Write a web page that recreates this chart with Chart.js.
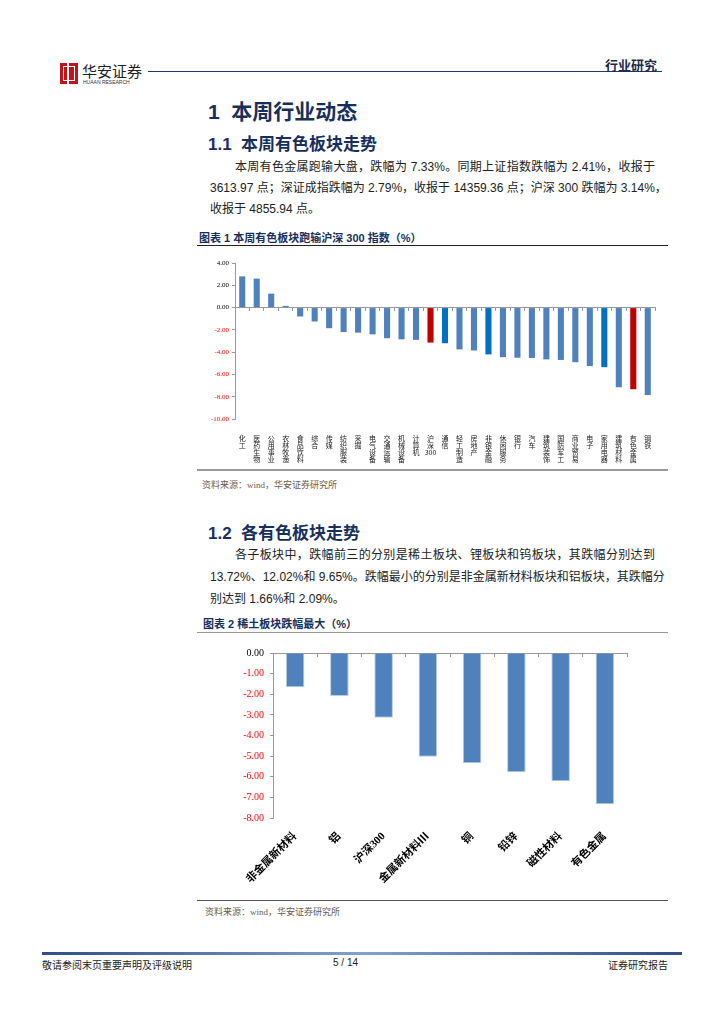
<!DOCTYPE html>
<html>
<head>
<meta charset="utf-8">
<script src="https://cdn.jsdelivr.net/npm/chart.js@4.4.1/dist/chart.umd.min.js"></script>
<style>
  body { margin: 0; width: 724px; height: 1024px; background: #fff; position: relative; overflow: hidden;
         font-family: "Liberation Sans", "Noto Sans CJK SC", sans-serif; color: #222; }
  .abs { position: absolute; white-space: nowrap; }
  .h1 { font-size: 21px; font-weight: bold; color: #172f5c; }
  .h2 { font-size: 17px; font-weight: bold; color: #172f5c; }
  .p { font-size: 12px; width: 445px; text-align: justify; text-align-last: justify; }
  .p.last { text-align-last: left; }
  .ct { font-size: 11px; font-weight: bold; color: #172f5c; }
  .src { font-size: 9px; color: #6b5d4f; font-family: "Liberation Serif", "Noto Sans CJK SC", serif; }
  .rule { position: absolute; height: 0; }
</style>
</head>
<body>
<!-- header -->
<div class="abs" style="left:60px;top:63px;width:16px;height:19px;border:1px solid #c0141c;background:#c0141c;"></div>
<div class="abs" style="left:63px;top:66px;width:10px;height:13px;border:1px solid #fff;"></div>
<div class="abs" style="left:67px;top:63px;width:2px;height:21px;background:#fff;"></div>
<div class="abs" style="left:82px;top:60px;font-size:15px;color:#222;">华安证券</div>
<div class="abs" style="left:83px;top:79px;font-size:5px;color:#333;">HUAAN RESEARCH</div>
<div class="rule" style="left:148px;top:71px;width:514px;border-top:1px solid #1e3a6b;"></div>
<div class="abs" style="left:605px;top:55px;font-size:13px;font-weight:bold;color:#1a2a4a;">行业研究</div>

<div class="abs h1" style="left:208px;top:95px;">1&nbsp; 本周行业动态</div>
<div class="abs h2" style="left:208px;top:130px;">1.1&nbsp; 本周有色板块走势</div>
<div class="abs p" style="left:210px;top:157px;text-indent:25px;">本周有色金属跑输大盘，跌幅为 7.33%。同期上证指数跌幅为 2.41%，收报于</div>
<div class="abs p" style="left:210px;top:178px;">3613.97 点；深证成指跌幅为 2.79%，收报于 14359.36 点；沪深 300 跌幅为 3.14%，</div>
<div class="abs p last" style="left:210px;top:199px;">收报于 4855.94 点。</div>

<div class="abs ct" style="left:199px;top:229px;">图表 1 本周有色板块跑输沪深 300 指数（%）</div>
<div class="rule" style="left:197px;top:245px;width:471px;border-top:1.5px solid #222;"></div>
<div class="abs" style="left:197px;top:250px;width:471px;height:215px;"><canvas id="chart1"></canvas></div>
<div class="rule" style="left:197px;top:469px;width:471px;border-top:2px solid #999;"></div>
<div class="abs src" style="left:202px;top:478px;">资料来源：wind，华安证券研究所</div>

<div class="abs h2" style="left:208px;top:519px;">1.2&nbsp; 各有色板块走势</div>
<div class="abs p" style="left:210px;top:545px;text-indent:25px;">各子板块中，跌幅前三的分别是稀土板块、锂板块和钨板块，其跌幅分别达到</div>
<div class="abs p" style="left:210px;top:567px;">13.72%、12.02%和 9.65%。跌幅最小的分别是非金属新材料板块和铝板块，其跌幅分</div>
<div class="abs p last" style="left:210px;top:589px;">别达到 1.66%和 2.09%。</div>

<div class="abs ct" style="left:203px;top:615px;">图表 2 稀土板块跌幅最大（%）</div>
<div class="rule" style="left:197px;top:632px;width:471px;border-top:1.5px solid #999;"></div>
<div class="abs" style="left:197px;top:640px;width:471px;height:256px;"><canvas id="chart2"></canvas></div>
<div class="rule" style="left:197px;top:900px;width:471px;border-top:1.5px solid #555;"></div>
<div class="abs src" style="left:205px;top:905px;">资料来源：wind，华安证券研究所</div>

<!-- footer -->
<div class="abs" style="left:42px;top:952px;width:640px;height:3px;background:linear-gradient(to right,#2f4f86,#7fa2cf 50%,#2f4f86);"></div>
<div class="abs" style="left:42px;top:957px;font-size:10px;color:#222;">敬请参阅末页重要声明及评级说明</div>
<div class="abs" style="left:333px;top:957px;font-size:10px;color:#222;">5 / 14</div>
<div class="abs" style="left:608px;top:957px;font-size:10px;color:#222;">证券研究报告</div>

<script>
// 图表1：申万一级行业周涨跌幅
const industries = ['化工', '医药生物', '公用事业', '农林牧渔', '食品饮料', '综合', '传媒', '纺织服装', '采掘', '电气设备',
  '交通运输', '机械设备', '计算机', '沪深300', '通信', '轻工制造', '房地产', '非银金融', '休闲服务', '银行',
  '汽车', '建筑装饰', '国防军工', '商业贸易', '电子', '家用电器', '建筑材料', '有色金属', '钢铁'];
const industryChange = [2.80, 2.60, 1.25, 0.15, -0.80, -1.25, -1.85, -2.20, -2.25, -2.40,
  -2.75, -2.85, -2.90, -3.14, -3.20, -3.75, -3.85, -4.20, -4.45, -4.50,
  -4.52, -4.65, -4.70, -4.90, -5.25, -5.35, -7.15, -7.33, -7.85];
const industryColors = industries.map(n => {
  if (n === '沪深300' || n === '有色金属') return '#c00000';
  if (n === '通信' || n === '非银金融' || n === '家用电器') return '#0070c0';
  return '#4f81bd';
});
const yTicks1 = { min: -10, max: 4, step: 2 };

// 图表2：有色子板块涨跌幅
const subSectors = ['非金属新材料', '铝', '沪深300', '金属新材料Ⅲ', '铜', '铅锌', '磁性材料', '有色金属'];
const subChange = [-1.66, -2.09, -3.14, -5.03, -5.35, -5.78, -6.22, -7.33];
const yTicks2 = { min: -8, max: 0, step: 1 };

const serif = '"Liberation Serif", "Noto Sans CJK SC", serif';
const tickColor = ctx => ctx.tick && ctx.tick.value < 0 ? '#ff0000' : '#000';

// 竖排标签：300 这样的数字保持在一起
const vertical = s => s.match(/\d+|./g);

new Chart(document.getElementById('chart1'), {
  type: 'bar',
  data: {
    labels: industries,
    datasets: [{ data: industryChange, backgroundColor: industryColors, barPercentage: 0.42, categoryPercentage: 1 }]
  },
  options: {
    responsive: true, maintainAspectRatio: false, animation: false,
    layout: { padding: { left: 0, right: 13, top: 13, bottom: 0 } },
    plugins: { legend: { display: false }, tooltip: { enabled: false } },
    scales: {
      x: {
        grid: { display: false }, border: { display: false },
        ticks: { autoSkip: false, maxRotation: 0, minRotation: 0, padding: 8, color: '#222',
                 font: { family: '"Noto Sans CJK SC"', size: 7, lineHeight: 1.0 },
                 callback: (v, i) => vertical(industries[i]) },
        afterFit: s => { s.height = 46; }
      },
      x2: {
        type: 'category', axis: 'x', labels: industries, position: { y: 0 },
        offset: true,
        grid: { offset: true, drawOnChartArea: false, drawTicks: true, tickLength: 3, color: '#999' },
        border: { color: '#999' },
        ticks: { display: false }
      },
      y: {
        min: yTicks1.min, max: yTicks1.max,
        grid: { drawOnChartArea: false, drawTicks: true, tickLength: 3, color: '#999' },
        border: { color: '#999' },
        ticks: { stepSize: yTicks1.step, padding: 3, color: tickColor,
                 font: { family: serif, size: 7 }, callback: v => v.toFixed(2) },
        afterFit: s => { s.width = 38; }
      }
    }
  }
});

new Chart(document.getElementById('chart2'), {
  type: 'bar',
  data: {
    labels: subSectors,
    datasets: [{ data: subChange, backgroundColor: '#4f81bd', borderColor: '#b9cde5', borderWidth: 1,
                 barPercentage: 0.42, categoryPercentage: 1 }]
  },
  options: {
    responsive: true, maintainAspectRatio: false, animation: false,
    layout: { padding: { left: 0, right: 41, top: 13, bottom: 0 } },
    plugins: { legend: { display: false }, tooltip: { enabled: false } },
    scales: {
      x: {
        grid: { display: false }, border: { display: false },
        ticks: { autoSkip: false, maxRotation: 45, minRotation: 45, padding: 4, color: '#000',
                 font: { family: serif, size: 11, weight: 'bold' } },
        afterFit: s => { s.height = 78; }
      },
      x2: {
        type: 'category', axis: 'x', labels: subSectors, position: { y: 0 },
        offset: true,
        grid: { offset: true, drawOnChartArea: false, drawTicks: true, tickLength: 3, color: '#999' },
        border: { color: '#999' },
        ticks: { display: false }
      },
      y: {
        min: yTicks2.min, max: yTicks2.max,
        grid: { drawOnChartArea: false, drawTicks: true, tickLength: 3, color: '#999' },
        border: { color: '#999' },
        ticks: { stepSize: yTicks2.step, padding: 6, color: tickColor,
                 font: { family: serif, size: 10 }, callback: v => v.toFixed(2) },
        afterFit: s => { s.width = 76; }
      }
    }
  }
});
</script>
</body>
</html>
